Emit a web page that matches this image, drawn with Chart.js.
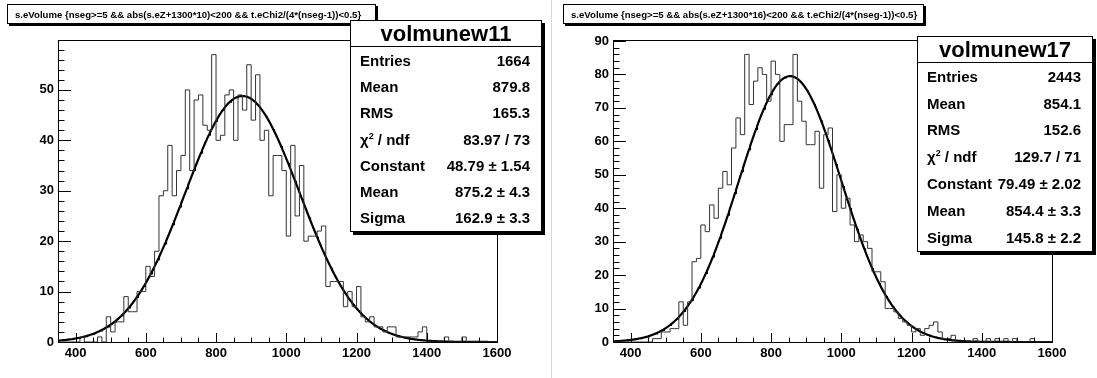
<!DOCTYPE html>
<html>
<head>
<meta charset="utf-8">
<script src="https://cdn.jsdelivr.net/npm/chart.js@4"></script>
<style>
  body { margin: 0; background: #fff; width: 1097px; height: 378px; position: relative; overflow: hidden;
         font-family: "Liberation Sans", Arial, sans-serif; font-weight: bold; color: #000; }
  .pad { position: absolute; top: 0; width: 548px; height: 378px; }
  .sep { position: absolute; left: 551px; top: 0; width: 1px; height: 378px; background: #d8d8d8; }
  .title { position: absolute; top: 4px; height: 20px; line-height: 20px; border: 1px solid #000;
           box-shadow: 2px 2px 0 #000; background: #fff; font-size: 9.6px; white-space: nowrap;
           padding-left: 7px; box-sizing: border-box; }
  .stats { position: absolute; border: 1px solid #000; box-shadow: 3px 3px 0 #000; background: #fff; }
  .stats .head { font-size: 22px; text-align: center; border-bottom: 1px solid #000; }
  .stats .row { display: flex; justify-content: space-between; font-size: 15px; padding: 0 11px 0 9px; align-items: center; }
  sup { font-size: 9px; vertical-align: 6px; line-height: 0; }
</style>
</head>
<body>
<div class="pad" style="left:0"><canvas id="c11" width="548" height="378"></canvas></div>
<div class="pad" style="left:549px"><canvas id="c17" width="548" height="378"></canvas></div>
<div class="sep"></div>

<div class="title" style="left:7px;width:369px">s.eVolume {nseg&gt;=5 &amp;&amp; abs(s.eZ+1300*10)&lt;200 &amp;&amp; t.eChi2/(4*(nseg-1))&lt;0.5}</div>
<div class="title" style="left:563px;width:361px">s.eVolume {nseg&gt;=5 &amp;&amp; abs(s.eZ+1300*16)&lt;200 &amp;&amp; t.eChi2/(4*(nseg-1))&lt;0.5}</div>

<div class="stats" id="s11" style="left:350px;top:20px;width:190px"></div>
<div class="stats" id="s17" style="left:917px;top:36px;width:174px"></div>

<script>
// histogram binning (100 bins from 350 to 1600)
const xMin = 350;
const xMax = 1600;
const binWidth = 12.5;
const xTicks = [400, 600, 800, 1000, 1200, 1400, 1600];
const yTicks11 = [0, 10, 20, 30, 40, 50];
const yTicks17 = [0, 10, 20, 30, 40, 50, 60, 70, 80, 90];

// bin contents
const counts11 = [
  0, 0, 0, 0, 0, 0, 1, 0, 0, 0, 1, 0,
  5, 2, 4, 4, 9, 6, 6, 10, 10, 15, 13, 18, 29, 30, 39, 29, 34, 37, 50, 34, 48, 49,
  43, 42, 57, 40, 41, 49, 50, 40, 49, 46, 55, 44, 53, 40, 42,
  29, 37, 37, 34, 21, 39, 25, 35, 20, 21, 21, 22, 23, 11, 12, 12, 12, 7, 10, 7, 11,
  5, 4, 5, 3, 3, 2, 3, 3, 1, 1, 1, 1, 1, 2, 3, 0, 0, 0, 0, 1, 0, 0, 0, 1, 0, 0, 0, 0, 0, 0
];
const counts17 = [
  0, 0, 0, 0, 0, 0, 0, 0, 0, 0, 1, 1,
  3, 3, 4, 4, 12, 5, 12, 24, 25, 35, 33, 41, 37, 46, 51, 47, 58, 67, 62,
  86, 71, 78, 82, 80, 72, 84, 80, 60, 65, 65, 86, 72, 66, 59,
  59, 63, 46, 62, 64, 39, 50, 40, 43, 35, 30, 32, 30, 28, 21,
  21, 18, 10, 10, 9, 7, 6, 5, 3, 4, 2, 4, 5, 6, 3, 1, 1, 2,
  0, 0, 0, 0, 1, 0, 0, 1, 0, 1, 0, 1, 0, 1, 0, 0, 0, 1, 0, 0, 0
];

// gaussian fit results shown in the stat boxes
const fit11 = { constant: 48.79, mean: 875.2, sigma: 162.9 };
const fit17 = { constant: 79.49, mean: 854.4, sigma: 145.8 };

const statLabels = ["Entries", "Mean", "RMS", "χ<sup>2</sup> / ndf", "Constant", "Mean", "Sigma"];
const stats11 = ["1664", "879.8", "165.3", "83.97 / 73", "48.79 ± 1.54", "875.2 ± 4.3", "162.9 ± 3.3"];
const stats17 = ["2443", "854.1", "152.6", "129.7 / 71", "79.49 ± 2.02", "854.4 ± 3.3", "145.8 ± 2.2"];

function fillStats(id, name, values, headH, rowH) {
  const box = document.getElementById(id);
  let html = `<div class="head" style="height:${headH}px;line-height:${headH}px">${name}</div>`;
  values.forEach((v, i) => {
    html += `<div class="row" style="height:${rowH}px"><span>${statLabels[i]}</span><span>${v}</span></div>`;
  });
  box.innerHTML = html;
}
fillStats("s11", "volmunew11", stats11, 25, 26.3);
fillStats("s17", "volmunew17", stats17, 25, 26.8);

// ROOT style frame with inward ticks
const rootAxes = {
  id: "rootAxes",
  afterDatasetsDraw(chart, args, opts) {
    const { ctx, chartArea: a, scales: { x, y } } = chart;
    ctx.save();
    ctx.strokeStyle = "#000";
    ctx.lineWidth = 1;
    ctx.strokeRect(Math.round(a.left) + 0.5, Math.round(a.top) + 0.5,
                   Math.round(a.right - a.left), Math.round(a.bottom - a.top));
    ctx.beginPath();
    for (let v = xMin; v <= xMax; v += 50) {
      const px = Math.round(x.getPixelForValue(v)) + 0.5;
      const len = v % 200 === 0 ? 9 : 4.5;
      ctx.moveTo(px, a.bottom);
      ctx.lineTo(px, a.bottom - len);
    }
    for (let v = 0; v <= opts.yMax; v += 2) {
      const py = Math.round(y.getPixelForValue(v)) + 0.5;
      const len = v % 10 === 0 ? 13 : 6.5;
      ctx.moveTo(a.left, py);
      ctx.lineTo(a.left + len, py);
    }
    ctx.stroke();
    ctx.restore();
  }
};

const tickFont = { family: "'Liberation Sans', Arial, sans-serif", size: 13, weight: "bold" };

function makeChart(id, counts, fit, yMax, yTicks, yWidth, padRight) {
  const hist = counts.map((c, i) => ({ x: xMin + i * binWidth, y: c }));
  hist.push({ x: xMax, y: counts[counts.length - 1] });
  const curve = [];
  for (let i = 0; i <= 500; i++) {
    const xv = xMin + (xMax - xMin) * i / 500;
    curve.push({ x: xv, y: fit.constant * Math.exp(-0.5 * Math.pow((xv - fit.mean) / fit.sigma, 2)) });
  }

  return new Chart(document.getElementById(id), {
    type: "line",
    data: {
      datasets: [
        { data: hist, stepped: "after", borderColor: "#333", borderWidth: 1, pointRadius: 0, fill: false },
        { data: curve, borderColor: "#000", borderWidth: 2.2, pointRadius: 0, tension: 0, fill: false }
      ]
    },
    options: {
      responsive: false,
      animation: false,
      devicePixelRatio: 1,
      layout: { padding: { left: 0, right: padRight, top: 40, bottom: 0 } },
      plugins: {
        legend: { display: false },
        tooltip: { enabled: false },
        rootAxes: { yMax: yMax }
      },
      scales: {
        x: {
          type: "linear", min: xMin, max: xMax,
          grid: { display: false, drawTicks: false }, border: { display: false },
          afterBuildTicks: s => { s.ticks = xTicks.map(v => ({ value: v })); },
          afterFit: s => { s.height = 36; },
          ticks: { color: "#000", font: tickFont, padding: 4, maxRotation: 0, autoSkip: false,
                   callback: v => String(v) }
        },
        y: {
          min: 0, max: yMax,
          grid: { display: false, drawTicks: false }, border: { display: false },
          afterBuildTicks: s => { s.ticks = yTicks.map(v => ({ value: v })); },
          afterFit: s => { s.width = yWidth; },
          ticks: { color: "#000", font: tickFont, padding: 4, autoSkip: false,
                   callback: v => String(v) }
        }
      }
    },
    plugins: [rootAxes]
  });
}

makeChart("c11", counts11, fit11, 59.9, yTicks11, 58, 51);
makeChart("c17", counts17, fit17, 90.3, yTicks17, 64, 45);
</script>
</body>
</html>
